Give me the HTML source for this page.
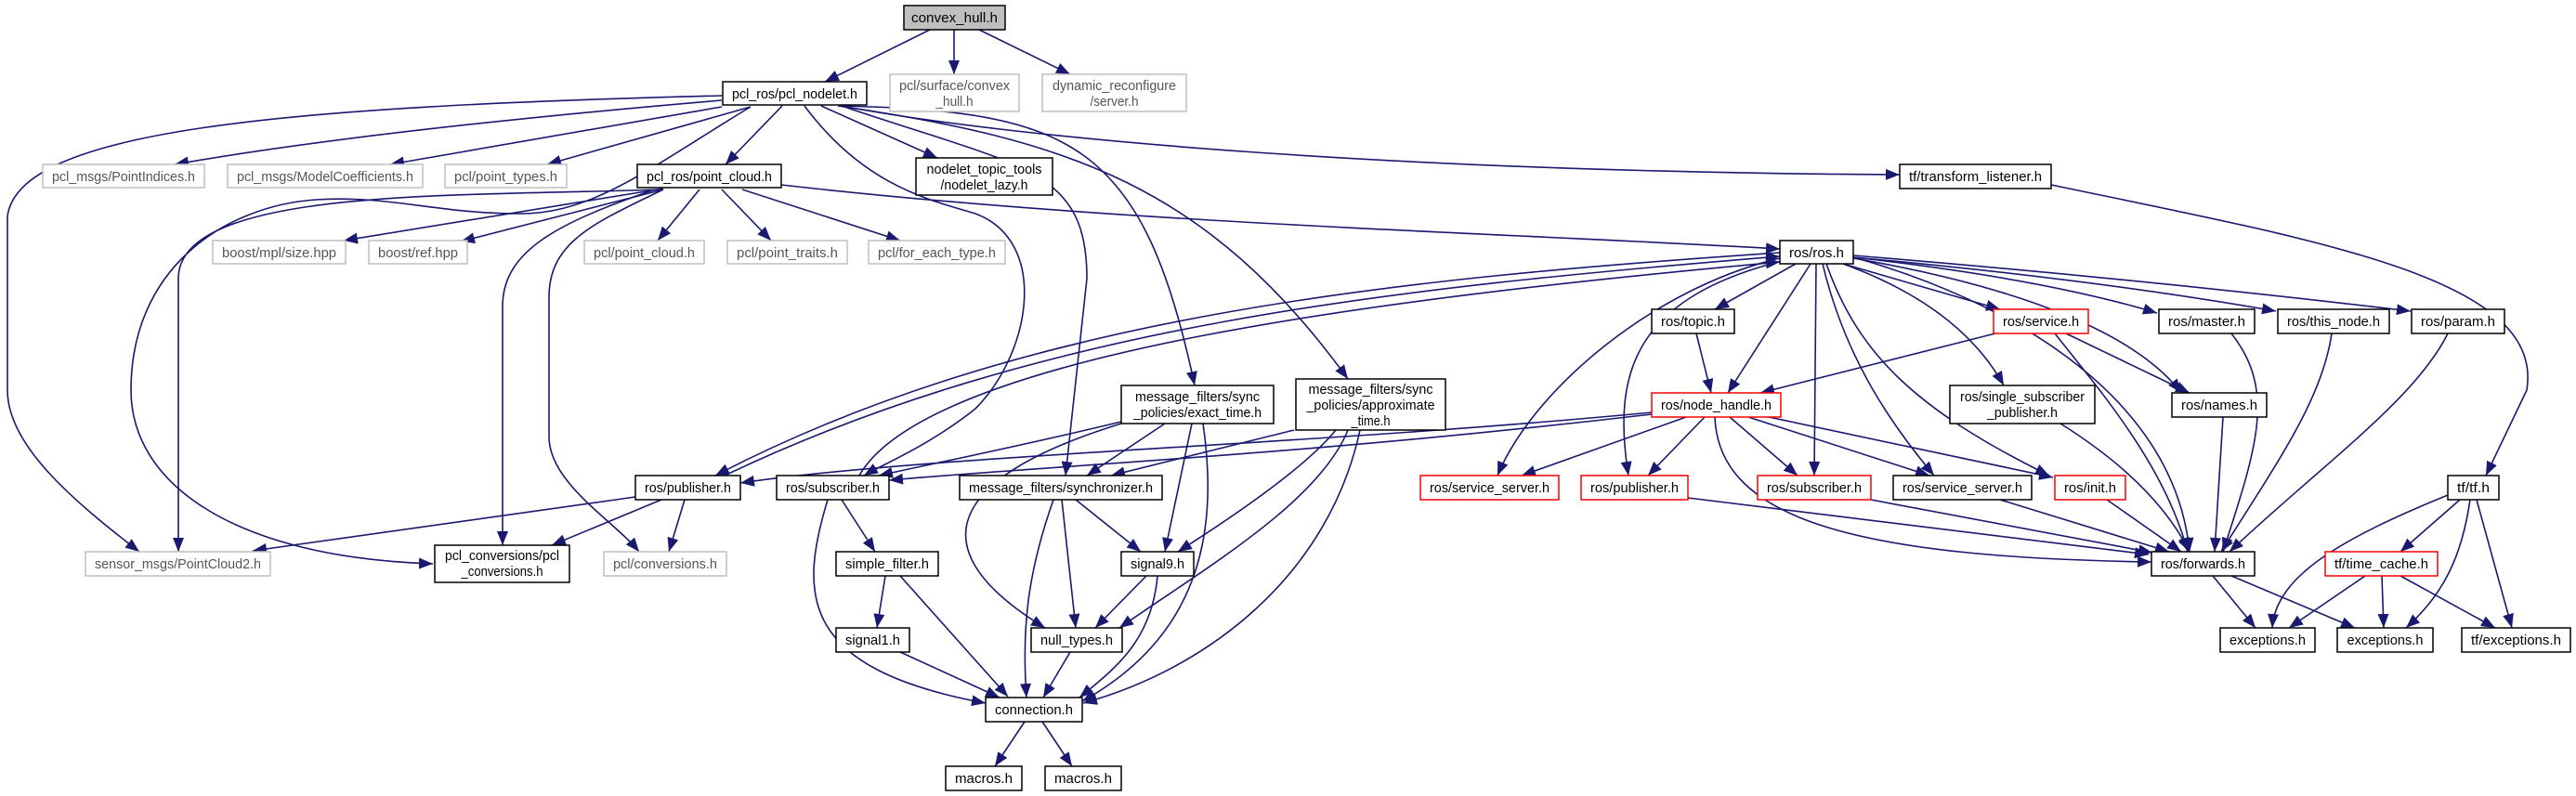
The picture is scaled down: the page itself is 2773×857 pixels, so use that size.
<!DOCTYPE html>
<html><head><meta charset="utf-8">
<style>
html,body{margin:0;padding:0;background:#fff;}
svg{display:block;}
text{font-family:"Liberation Sans",sans-serif;font-size:15px;fill:#000;}
.g text,text.g{fill:#555;}
.e{fill:none;stroke:#191970;stroke-width:1.6;marker-end:url(#a);}
</style></head><body>
<svg width="2773" height="857" viewBox="0 0 2773 857" xmlns="http://www.w3.org/2000/svg">
<defs>
<marker id="a" markerUnits="userSpaceOnUse" markerWidth="16" markerHeight="12" refX="15" refY="6" orient="auto">
<path d="M0,0 L15,6 L0,12 z" fill="#191970"/>
</marker>
</defs>

<!-- edges -->
<g>
<path class="e" d="M1001,32 L888,88"/>
<path class="e" d="M1027,32 L1027,80"/>
<path class="e" d="M1054,32 L1152,80"/>
<path class="e" d="M777,108 Q400,140 188,177"/>
<path class="e" d="M777,115 L420,177"/>
<path class="e" d="M808,115 L589,177"/>
<path class="e" d="M842,114 L781,177"/>
<path class="e" d="M884,114 L1009,170"/>
<path class="e" d="M911,115 C1100,150 1500,185 2045,188"/>
<path class="e" d="M777,103 C300,115 20,140 8,233 L8,420 C8,480 80,540 150,594"/>
<path class="e" d="M710,204 C500,212 192,200 192,300 L192,594"/>
<path class="e" d="M808,115 C700,180 640,230 560,230 C470,230 420,210 340,215 C240,222 141,290 141,420 C141,520 250,600 466,607"/>
<path class="e" d="M705,204 C600,240 541,270 541,330 L541,587"/>
<path class="e" d="M714,204 C640,240 591,260 591,320 L591,470 C591,520 660,560 688,594"/>
<path class="e" d="M714,203 L370,259"/>
<path class="e" d="M714,204 L496,260"/>
<path class="e" d="M753,204 L708,259"/>
<path class="e" d="M777,204 L830,259"/>
<path class="e" d="M799,204 L969,259"/>
<path class="e" d="M841,199 C1200,240 1600,250 1916,268"/>
<path class="e" d="M866,114 C930,200 1000,215 1050,230 C1130,260 1110,380 1050,440 C1000,480 950,500 930,512"/>
<path class="e" d="M906,114 C1100,180 1170,180 1170,300 L1147,512"/>
<path class="e" d="M906,114 C1150,120 1230,150 1286,415"/>
<path class="e" d="M902,114 C1150,150 1300,200 1451,408"/>
<path class="e" d="M1916,272 C1500,300 1100,340 770,512"/>
<path class="e" d="M780,512 C1120,350 1500,310 1916,276"/>
<path class="e" d="M925,512 C1000,380 1500,320 1916,282"/>
<path class="e" d="M1933,284 L1846,333"/>
<path class="e" d="M1949,284 L1860,423"/>
<path class="e" d="M1984,284 L2153,333"/>
<path class="e" d="M1995,277 Q2200,300 2322,337"/>
<path class="e" d="M1995,277 Q2250,300 2450,335"/>
<path class="e" d="M1995,275 Q2300,300 2595,335"/>
<path class="e" d="M1984,284 Q2110,330 2157,415"/>
<path class="e" d="M1995,278 C2180,310 2300,360 2348,423"/>
<path class="e" d="M1966,284 C2000,380 2060,440 2206,512"/>
<path class="e" d="M1995,277 C2150,320 2340,420 2357,594"/>
<path class="e" d="M1916,278 C1780,310 1650,420 1612,512"/>
<path class="e" d="M1922,280 C1760,320 1735,400 1753,512"/>
<path class="e" d="M1955,284 L1953,512"/>
<path class="e" d="M1962,284 C1985,380 2030,450 2082,512"/>
<path class="e" d="M1778,444 C1400,480 1000,490 797,520"/>
<path class="e" d="M1778,446 C1400,490 1150,500 957,517"/>
<path class="e" d="M1815,449 L1638,512"/>
<path class="e" d="M1835,449 L1774,512"/>
<path class="e" d="M1862,449 L1935,512"/>
<path class="e" d="M1882,449 L2077,512"/>
<path class="e" d="M1904,449 L2210,514"/>
<path class="e" d="M1846,449 C1850,560 2000,600 2316,605"/>
<path class="e" d="M1826,359 L1842,423"/>
<path class="e" d="M2148,359 L1895,423"/>
<path class="e" d="M2224,359 L2357,423"/>
<path class="e" d="M2212,359 C2260,420 2330,500 2355,594"/>
<path class="e" d="M2402,359 C2450,420 2430,480 2393,594"/>
<path class="e" d="M2510,359 C2500,430 2450,500 2391,594"/>
<path class="e" d="M2635,359 C2600,430 2500,500 2400,594"/>
<path class="e" d="M2393,449 L2384,594"/>
<path class="e" d="M2218,456 Q2320,520 2357,594"/>
<path class="e" d="M1817,536 L2313,597"/>
<path class="e" d="M2014,538 L2317,595"/>
<path class="e" d="M2153,538 L2335,594"/>
<path class="e" d="M2268,538 L2348,594"/>
<path class="e" d="M2208,199 C2500,260 2740,300 2720,420 L2676,512"/>
<path class="e" d="M2635,533 C2520,580 2450,620 2446,676"/>
<path class="e" d="M2648,538 L2584,594"/>
<path class="e" d="M2659,538 C2650,600 2630,640 2590,676"/>
<path class="e" d="M2666,538 L2704,676"/>
<path class="e" d="M2546,620 L2464,676"/>
<path class="e" d="M2564,620 L2566,676"/>
<path class="e" d="M2584,620 L2686,676"/>
<path class="e" d="M2382,620 L2428,676"/>
<path class="e" d="M2402,620 L2535,676"/>
<path class="e" d="M684,535 L272,593"/>
<path class="e" d="M712,538 L594,587"/>
<path class="e" d="M737,538 L720,594"/>
<path class="e" d="M906,538 L942,594"/>
<path class="e" d="M891,538 C860,640 860,720 1061,757"/>
<path class="e" d="M953,620 L944,676"/>
<path class="e" d="M969,620 L1085,750"/>
<path class="e" d="M969,702 L1076,751"/>
<path class="e" d="M1158,538 L1228,594"/>
<path class="e" d="M1143,538 L1158,676"/>
<path class="e" d="M1134,538 C1105,620 1100,680 1105,751"/>
<path class="e" d="M1234,620 L1179,676"/>
<path class="e" d="M1246,620 C1240,690 1200,720 1162,751"/>
<path class="e" d="M1152,702 L1123,751"/>
<path class="e" d="M1103,777 L1071,825"/>
<path class="e" d="M1122,777 L1154,825"/>
<path class="e" d="M1207,454 C1100,480 1000,500 946,512"/>
<path class="e" d="M1254,456 L1170,512"/>
<path class="e" d="M1283,456 L1254,594"/>
<path class="e" d="M1295,456 C1310,560 1300,680 1165,755"/>
<path class="e" d="M1207,456 C1000,520 1000,600 1125,676"/>
<path class="e" d="M1393,463 L1196,512"/>
<path class="e" d="M1438,463 Q1400,510 1268,594"/>
<path class="e" d="M1451,463 C1420,540 1300,610 1205,676"/>
<path class="e" d="M1464,463 C1430,620 1300,720 1166,757"/>
</g>

<!-- nodes -->
<g stroke-width="1.5">
<!-- gray fill -->
<rect x="973" y="6" width="109" height="26" fill="#bfbfbf" stroke="#000"/>
<text x="1027.5" y="24" text-anchor="middle" textLength="93" lengthAdjust="spacingAndGlyphs">convex_hull.h</text>

<!-- black nodes -->
<g fill="#fff" stroke="#000">
<rect x="778" y="88" width="155" height="25"/>
<rect x="686" y="177" width="155" height="25"/>
<rect x="986" y="170" width="147" height="40"/>
<rect x="2045" y="177" width="163" height="26"/>
<rect x="1916" y="259" width="79" height="25"/>
<rect x="1778" y="333" width="89" height="26"/>
<rect x="2324" y="333" width="103" height="26"/>
<rect x="2452" y="333" width="120" height="26"/>
<rect x="2596" y="333" width="100" height="26"/>
<rect x="1207" y="415" width="164" height="41"/>
<rect x="1395" y="408" width="161" height="55"/>
<rect x="2099" y="415" width="156" height="41"/>
<rect x="2338" y="423" width="102" height="26"/>
<rect x="684" y="512" width="113" height="26"/>
<rect x="836" y="512" width="121" height="26"/>
<rect x="1033" y="512" width="218" height="26"/>
<rect x="2038" y="512" width="149" height="26"/>
<rect x="2635" y="512" width="55" height="26"/>
<rect x="468" y="587" width="145" height="40"/>
<rect x="900" y="594" width="110" height="26"/>
<rect x="1207" y="594" width="78" height="26"/>
<rect x="2316" y="594" width="111" height="26"/>
<rect x="900" y="676" width="79" height="26"/>
<rect x="1110" y="676" width="98" height="26"/>
<rect x="2390" y="676" width="102" height="26"/>
<rect x="2516" y="676" width="103" height="26"/>
<rect x="2650" y="676" width="117" height="26"/>
<rect x="1061" y="751" width="104" height="26"/>
<rect x="1018" y="825" width="82" height="26"/>
<rect x="1125" y="825" width="82" height="26"/>
</g>
<!-- red nodes -->
<g fill="#fff" stroke="#ff0000">
<rect x="2146" y="333" width="102" height="26"/>
<rect x="1778" y="423" width="139" height="26"/>
<rect x="1529" y="512" width="149" height="26"/>
<rect x="1702" y="512" width="115" height="26"/>
<rect x="1892" y="512" width="122" height="26"/>
<rect x="2212" y="512" width="76" height="26"/>
<rect x="2503" y="594" width="121" height="26"/>
</g>
<!-- gray nodes -->
<g fill="#fff" stroke="#bfbfbf">
<rect x="958" y="80" width="139" height="40"/>
<rect x="1122" y="80" width="155" height="40"/>
<rect x="46" y="177" width="174" height="25"/>
<rect x="245" y="177" width="210" height="25"/>
<rect x="479" y="177" width="131" height="25"/>
<rect x="229" y="259" width="143" height="25"/>
<rect x="397" y="259" width="106" height="25"/>
<rect x="629" y="259" width="129" height="25"/>
<rect x="783" y="259" width="129" height="25"/>
<rect x="935" y="259" width="147" height="25"/>
<rect x="92" y="594" width="199" height="26"/>
<rect x="650" y="594" width="132" height="26"/>
</g>
</g>

<!-- labels -->
<g text-anchor="middle" style="font-size:15px" lengthAdjust="spacingAndGlyphs">
<text x="855.5" y="106" textLength="135" lengthAdjust="spacingAndGlyphs">pcl_ros/pcl_nodelet.h</text>
<text x="763.5" y="195" textLength="135" lengthAdjust="spacingAndGlyphs">pcl_ros/point_cloud.h</text>
<text x="1059.5" y="187" textLength="124" lengthAdjust="spacingAndGlyphs">nodelet_topic_tools</text>
<text x="1059.5" y="204" textLength="94" lengthAdjust="spacingAndGlyphs">/nodelet_lazy.h</text>
<text x="2126.5" y="195" textLength="143" lengthAdjust="spacingAndGlyphs">tf/transform_listener.h</text>
<text x="1955.5" y="277" textLength="59" lengthAdjust="spacingAndGlyphs">ros/ros.h</text>
<text x="1822.5" y="351" textLength="69" lengthAdjust="spacingAndGlyphs">ros/topic.h</text>
<text x="2375.5" y="351" textLength="83" lengthAdjust="spacingAndGlyphs">ros/master.h</text>
<text x="2512" y="351" textLength="100" lengthAdjust="spacingAndGlyphs">ros/this_node.h</text>
<text x="2646" y="351" textLength="80" lengthAdjust="spacingAndGlyphs">ros/param.h</text>
<text x="1289" y="432" textLength="134" lengthAdjust="spacingAndGlyphs">message_filters/sync</text>
<text x="1289" y="449" textLength="138" lengthAdjust="spacingAndGlyphs">_policies/exact_time.h</text>
<text x="1475.5" y="424" textLength="134" lengthAdjust="spacingAndGlyphs">message_filters/sync</text>
<text x="1475.5" y="441" textLength="138" lengthAdjust="spacingAndGlyphs">_policies/approximate</text>
<text x="1475.5" y="458" textLength="42" lengthAdjust="spacingAndGlyphs">_time.h</text>
<text x="2177" y="432" textLength="134" lengthAdjust="spacingAndGlyphs">ros/single_subscriber</text>
<text x="2177" y="449" textLength="76" lengthAdjust="spacingAndGlyphs">_publisher.h</text>
<text x="2389" y="441" textLength="82" lengthAdjust="spacingAndGlyphs">ros/names.h</text>
<text x="740.5" y="530" textLength="93" lengthAdjust="spacingAndGlyphs">ros/publisher.h</text>
<text x="896.5" y="530" textLength="101" lengthAdjust="spacingAndGlyphs">ros/subscriber.h</text>
<text x="1142" y="530" textLength="198" lengthAdjust="spacingAndGlyphs">message_filters/synchronizer.h</text>
<text x="2112.5" y="530" textLength="129" lengthAdjust="spacingAndGlyphs">ros/service_server.h</text>
<text x="2662.5" y="530" textLength="35" lengthAdjust="spacingAndGlyphs">tf/tf.h</text>
<text x="540.5" y="603" textLength="123" lengthAdjust="spacingAndGlyphs">pcl_conversions/pcl</text>
<text x="540.5" y="620" textLength="88" lengthAdjust="spacingAndGlyphs">_conversions.h</text>
<text x="955" y="612" textLength="90" lengthAdjust="spacingAndGlyphs">simple_filter.h</text>
<text x="1246" y="612" textLength="58" lengthAdjust="spacingAndGlyphs">signal9.h</text>
<text x="2371.5" y="612" textLength="91" lengthAdjust="spacingAndGlyphs">ros/forwards.h</text>
<text x="939.5" y="694" textLength="59" lengthAdjust="spacingAndGlyphs">signal1.h</text>
<text x="1159" y="694" textLength="78" lengthAdjust="spacingAndGlyphs">null_types.h</text>
<text x="2441" y="694" textLength="82" lengthAdjust="spacingAndGlyphs">exceptions.h</text>
<text x="2567.5" y="694" textLength="82" lengthAdjust="spacingAndGlyphs">exceptions.h</text>
<text x="2708.5" y="694" textLength="97" lengthAdjust="spacingAndGlyphs">tf/exceptions.h</text>
<text x="1113" y="769" textLength="84" lengthAdjust="spacingAndGlyphs">connection.h</text>
<text x="1059" y="843" textLength="62" lengthAdjust="spacingAndGlyphs">macros.h</text>
<text x="1166" y="843" textLength="62" lengthAdjust="spacingAndGlyphs">macros.h</text>
<!-- red node labels -->
<text x="2197" y="351" textLength="82" lengthAdjust="spacingAndGlyphs">ros/service.h</text>
<text x="1847.5" y="441" textLength="119" lengthAdjust="spacingAndGlyphs">ros/node_handle.h</text>
<text x="1603.5" y="530" textLength="129" lengthAdjust="spacingAndGlyphs">ros/service_server.h</text>
<text x="1759.5" y="530" textLength="95" lengthAdjust="spacingAndGlyphs">ros/publisher.h</text>
<text x="1953" y="530" textLength="102" lengthAdjust="spacingAndGlyphs">ros/subscriber.h</text>
<text x="2250" y="530" textLength="56" lengthAdjust="spacingAndGlyphs">ros/init.h</text>
<text x="2563.5" y="612" textLength="101" lengthAdjust="spacingAndGlyphs">tf/time_cache.h</text>
</g>
<g text-anchor="middle" class="g">
<text x="1027.5" y="97" textLength="119" lengthAdjust="spacingAndGlyphs">pcl/surface/convex</text>
<text x="1027.5" y="114" textLength="40" lengthAdjust="spacingAndGlyphs">_hull.h</text>
<text x="1199.5" y="97" textLength="133" lengthAdjust="spacingAndGlyphs">dynamic_reconfigure</text>
<text x="1199.5" y="114" textLength="52" lengthAdjust="spacingAndGlyphs">/server.h</text>
<text x="133" y="195" textLength="154" lengthAdjust="spacingAndGlyphs">pcl_msgs/PointIndices.h</text>
<text x="350" y="195" textLength="190" lengthAdjust="spacingAndGlyphs">pcl_msgs/ModelCoefficients.h</text>
<text x="544.5" y="195" textLength="111" lengthAdjust="spacingAndGlyphs">pcl/point_types.h</text>
<text x="300.5" y="277" textLength="123" lengthAdjust="spacingAndGlyphs">boost/mpl/size.hpp</text>
<text x="450" y="277" textLength="86" lengthAdjust="spacingAndGlyphs">boost/ref.hpp</text>
<text x="693.5" y="277" textLength="109" lengthAdjust="spacingAndGlyphs">pcl/point_cloud.h</text>
<text x="847.5" y="277" textLength="109" lengthAdjust="spacingAndGlyphs">pcl/point_traits.h</text>
<text x="1008.5" y="277" textLength="127" lengthAdjust="spacingAndGlyphs">pcl/for_each_type.h</text>
<text x="191.5" y="612" textLength="179" lengthAdjust="spacingAndGlyphs">sensor_msgs/PointCloud2.h</text>
<text x="716" y="612" textLength="112" lengthAdjust="spacingAndGlyphs">pcl/conversions.h</text>
</g>
</svg>
</body></html>
